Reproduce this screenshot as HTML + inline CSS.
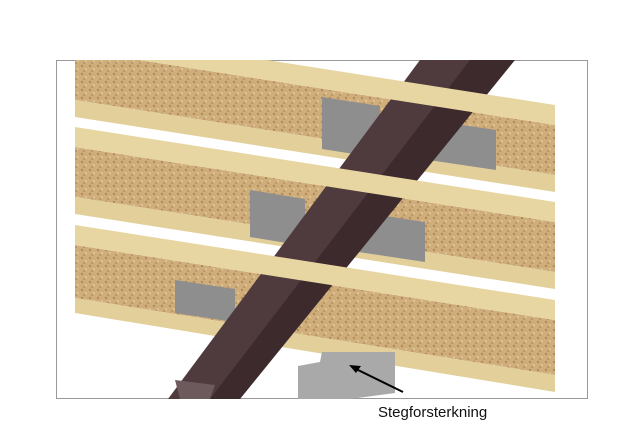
<!DOCTYPE html>
<html><head><meta charset="utf-8"><style>
html,body{margin:0;padding:0;background:#fff;width:619px;height:448px;overflow:hidden}
</style></head><body>
<svg width="619" height="448" viewBox="0 0 619 448" xmlns="http://www.w3.org/2000/svg">
<defs>
<clipPath id="c"><rect x="56" y="60" width="532" height="339"/></clipPath>
<pattern id="osb" width="8" height="8" patternUnits="userSpaceOnUse">
<rect width="8" height="8" fill="#cfae7c"/>
<circle cx="2" cy="2" r="1.2" fill="#b48a58"/>
<circle cx="6" cy="5" r="1" fill="#e0c899"/>
<circle cx="4" cy="7" r="0.8" fill="#a98050"/>
</pattern>
</defs>
<rect x="56.5" y="60.5" width="531" height="338" fill="#fff" stroke="#999" stroke-width="1"/>
<g clip-path="url(#c)">
<!-- joist webs + bottom flanges (left top Y, drop 75) -->
<g>
<polygon points="75,50 555,125 555,175 75,100" fill="url(#osb)"/>
<polygon points="75,100 555,175 555,192 75,117" fill="#e3cf9a"/>
<polygon points="75,147 555,222 555,272 75,197" fill="url(#osb)"/>
<polygon points="75,197 555,272 555,289 75,214" fill="#e3cf9a"/>
<polygon points="75,245 555,320 555,375 75,298" fill="url(#osb)"/>
<polygon points="75,298 555,375 555,392 75,313" fill="#e3cf9a"/>
</g>
<!-- plates -->
<g fill="#8e8e8e">
<polygon points="322,97 380,106 380,158 322,149"/>
<polygon points="415,118 496,130 496,170 415,158"/>
<polygon points="250,190 305,199 305,246 250,237"/>
<polygon points="345,210 425,222 425,262 345,250"/>
<polygon points="175,280 235,289 235,322 175,313"/>
</g>
<!-- steel beam -->
<polygon points="465,60 515,60 240,399 200,399" fill="#3d2a2d"/>
<polygon points="420,60 470,60 210,399 168,399" fill="#4f3a3d"/>
<polygon points="175,380 215,385 210,399 180,399" fill="#6d5a5c"/>
<!-- top flanges -->
<polygon points="75,30 555,105 555,125 75,50" fill="#e8d6a2"/>
<polygon points="75,127 555,202 555,222 75,147" fill="#e8d6a2"/>
<polygon points="75,225 555,300 555,320 75,245" fill="#e8d6a2"/>
<!-- steg plate -->
<polygon points="322,352 395,352 395,393 350,399 298,399 298,366 320,362" fill="#a9a9a9"/>
</g>
<line x1="403" y1="392" x2="356" y2="369" stroke="#000" stroke-width="2"/>
<polygon points="349,365 361,366 356,373" fill="#000"/>
<text x="378" y="417" font-family="Liberation Sans, sans-serif" font-size="15" fill="#111">Stegforsterkning</text>
</svg>
</body></html>
